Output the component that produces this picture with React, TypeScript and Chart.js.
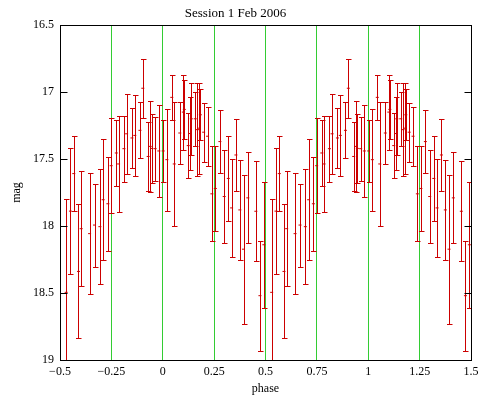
import React, { useEffect, useRef } from 'react';
import { Chart, registerables } from 'chart.js';

Chart.register(...registerables);

const TITLE = 'Session 1 Feb 2006';
const X_LABEL = 'phase';
const Y_LABEL = 'mag';

// One phase cycle of measurements (phase, magnitude, 1-sigma error)
const PHASES = [-0.470, -0.449, -0.433, -0.410, -0.397, -0.356, -0.332, -0.306, -0.290, -0.267, -0.251, -0.226, -0.215, -0.189, -0.176, -0.150, -0.136, -0.111, -0.097, -0.071, -0.061, -0.053, -0.037, -0.019, 0.002, 0.020, 0.044, 0.056, 0.083, 0.100, 0.105, 0.124, 0.135, 0.139, 0.158, 0.169, 0.178, 0.183, 0.199, 0.218, 0.239, 0.256, 0.278, 0.299, 0.319, 0.335, 0.356, 0.375, 0.393, 0.414, 0.453, 0.473, 0.492];
const MAGS = [18.495, 17.889, 17.609, 18.339, 18.02, 18.057, 17.993, 18.005, 17.804, 17.834, 17.55, 17.455, 17.537, 17.423, 17.312, 17.343, 17.324, 17.286, 16.972, 17.481, 17.406, 17.421, 17.423, 17.44, 17.44, 17.505, 17.04, 17.537, 17.306, 17.15, 17.13, 17.40, 17.31, 17.20, 17.20, 17.281, 17.27, 17.17, 17.30, 17.33, 17.76, 17.72, 17.37, 17.78, 17.645, 17.865, 17.47, 17.88, 18.173, 17.79, 17.89, 18.52, 18.14];
const ERRS = [0.70, 0.47, 0.28, 0.50, 0.43, 0.45, 0.31, 0.43, 0.45, 0.35, 0.355, 0.245, 0.36, 0.245, 0.30, 0.224, 0.30, 0.21, 0.22, 0.26, 0.34, 0.26, 0.24, 0.34, 0.23, 0.38, 0.17, 0.465, 0.23, 0.28, 0.22, 0.24, 0.27, 0.27, 0.20, 0.345, 0.34, 0.19, 0.22, 0.22, 0.355, 0.32, 0.237, 0.345, 0.314, 0.367, 0.268, 0.374, 0.556, 0.34, 0.374, 0.41, 0.47];
// The light curve is phase-folded and shown over two cycles
const CYCLES = [0, 1];

const X_MIN = -0.5;
const X_MAX = 1.5;
const X_STEP = 0.25;
const Y_MIN = 16.5;
const Y_MAX = 19;
const Y_STEP = 0.5;

const RED = 'rgb(204,0,0)';
const GREEN = '#33cc33';
const FONT = "'Liberation Serif', 'Times New Roman', serif";

const points = CYCLES.flatMap((c) =>
  PHASES.map((p, i) => ({ x: p + c, y: MAGS[i], err: ERRS[i] }))
);

const fmt = (v: number) => {
  const s = String(Math.round(v * 100) / 100);
  return s.replace('-', '\u2212');
};

const errorBarPlugin = {
  id: 'errorBars',
  beforeDatasetsDraw(chart: any) {
    const { ctx, chartArea, scales } = chart;
    const xs = scales.x;
    const ys = scales.y;
    ctx.save();
    ctx.beginPath();
    ctx.rect(chartArea.left, chartArea.top, chartArea.right - chartArea.left, chartArea.bottom - chartArea.top);
    ctx.clip();
    ctx.strokeStyle = RED;
    ctx.lineWidth = 1;
    const data = chart.data.datasets[0].data as any[];
    ctx.beginPath();
    data.forEach((d) => {
      const px = Math.round(xs.getPixelForValue(d.x)) + 0.5;
      const yt = Math.round(ys.getPixelForValue(d.y - d.err)) + 0.5;
      const yb = Math.round(ys.getPixelForValue(d.y + d.err)) + 0.5;
      ctx.moveTo(px, yt);
      ctx.lineTo(px, yb);
      ctx.moveTo(px - 2.5, yt);
      ctx.lineTo(px + 3, yt);
      ctx.moveTo(px - 2.5, yb);
      ctx.lineTo(px + 3, yb);
    });
    ctx.stroke();
    ctx.restore();
  },
  afterDraw(chart: any) {
    const { ctx, chartArea, scales } = chart;
    const ys = scales.y;
    const l = chartArea.left + 0.5;
    const r = chartArea.right + 0.5;
    const t = chartArea.top + 0.5;
    const b = chartArea.bottom + 0.5;
    ctx.save();
    ctx.strokeStyle = '#000';
    ctx.lineWidth = 1;
    ctx.strokeRect(l, t, r - l, b - t);
    ctx.beginPath();
    ys.ticks.forEach((tk: any) => {
      const py = Math.round(ys.getPixelForValue(tk.value)) + 0.5;
      ctx.moveTo(l, py);
      ctx.lineTo(l + 7, py);
      ctx.moveTo(r, py);
      ctx.lineTo(r - 7, py);
    });
    ctx.stroke();
    ctx.restore();
  },
};

export default function App() {
  const ref = useRef<HTMLCanvasElement>(null);

  useEffect(() => {
    if (!ref.current) return;
    const chart = new Chart(ref.current, {
      type: 'scatter',
      data: {
        datasets: [
          {
            data: points as any,
            pointStyle: 'line',
            pointRadius: 1.5,
            pointBorderWidth: 1,
            borderColor: RED,
            backgroundColor: RED,
          } as any,
        ],
      },
      options: {
        animation: false,
        responsive: false,
        devicePixelRatio: 1,
        layout: { padding: { left: 0, right: 24, top: 0, bottom: 0 } },
        plugins: {
          legend: { display: false },
          tooltip: { enabled: false },
          title: {
            display: true,
            text: TITLE,
            color: '#000',
            font: { family: FONT, size: 13, weight: 'normal' },
            padding: { top: 5.5, bottom: 3.9 },
          },
        },
        scales: {
          x: {
            type: 'linear',
            min: X_MIN,
            max: X_MAX,
            afterFit: (s: any) => {
              s.height = 39;
            },
            ticks: {
              stepSize: X_STEP,
              color: '#000',
              padding: 4.5,
              maxRotation: 0,
              autoSkip: false,
              font: { family: FONT, size: 12 },
              callback: (v: any) => fmt(Number(v)),
            },
            grid: {
              drawTicks: false,
              color: (c: any) => {
                const v = c.tick ? c.tick.value : null;
                return v !== null && v > X_MIN && v < X_MAX ? GREEN : 'rgba(0,0,0,0)';
              },
              lineWidth: 1,
            },
            border: { display: false },
            title: {
              display: true,
              text: X_LABEL,
              color: '#000',
              font: { family: FONT, size: 12 },
              padding: { top: 0, bottom: 3 },
            },
          },
          y: {
            type: 'linear',
            min: Y_MIN,
            max: Y_MAX,
            reverse: true,
            afterFit: (s: any) => {
              s.width = 60;
            },
            ticks: {
              stepSize: Y_STEP,
              color: '#000',
              padding: 6,
              font: { family: FONT, size: 12 },
              callback: (v: any) => fmt(Number(v)),
            },
            grid: { display: false, drawTicks: false },
            border: { display: false },
            title: {
              display: true,
              text: Y_LABEL,
              color: '#000',
              font: { family: FONT, size: 12 },
              padding: { top: 10, bottom: 0 },
            },
          },
        },
      },
      plugins: [errorBarPlugin],
    });
    return () => chart.destroy();
  }, []);

  return (
    <div style={{ position: 'absolute', left: 0, top: 0, width: 495, height: 399, background: '#fff' }}>
      <canvas ref={ref} width={495} height={399} style={{ display: 'block', width: 495, height: 399 }} />
    </div>
  );
}
